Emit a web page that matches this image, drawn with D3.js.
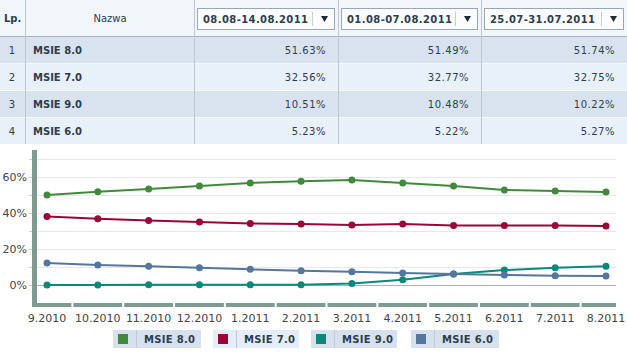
<!DOCTYPE html>
<html>
<head>
<meta charset="utf-8">
<script src="https://cdn.jsdelivr.net/npm/d3@7"></script>
<style>
  body { margin: 0; background: #fff; }
  svg { display: block; font-family: "DejaVu Sans", Verdana, sans-serif; }
</style>
</head>
<body>
<svg id="chart" width="627" height="352"></svg>
<script>
// table data
const periods = ["08.08-14.08.2011", "01.08-07.08.2011", "25.07-31.07.2011"];
const browsers = ["MSIE 8.0", "MSIE 7.0", "MSIE 9.0", "MSIE 6.0"];
const shareWeek1 = ["51.63%", "32.56%", "10.51%", "5.23%"];
const shareWeek2 = ["51.49%", "32.77%", "10.48%", "5.22%"];
const shareWeek3 = ["51.74%", "32.75%", "10.22%", "5.27%"];

// chart data
const months = ["9.2010", "10.2010", "11.2010", "12.2010", "1.2011", "2.2011",
  "3.2011", "4.2011", "5.2011", "6.2011", "7.2011", "8.2011"];
const msie8 = [50.0, 51.8, 53.3, 55.0, 56.7, 57.6, 58.3, 56.7, 55.0, 52.8, 52.2, 51.7];
const msie7 = [38.1, 36.8, 35.9, 35.0, 34.2, 33.9, 33.3, 33.9, 33.0, 33.1, 33.0, 32.8];
const msie9 = [0.0, 0.0, 0.1, 0.1, 0.1, 0.2, 0.9, 2.9, 6.1, 8.3, 9.6, 10.4];
const msie6 = [12.2, 11.1, 10.4, 9.6, 8.7, 7.9, 7.4, 6.7, 6.1, 5.6, 5.2, 5.0];
const yTicks = [0, 20, 40, 60];
const yGrid = [0, 10, 20, 30, 40, 50, 60, 70];

const series = [
  {name: "MSIE 8.0", values: msie8, color: "#428a3b"},
  {name: "MSIE 7.0", values: msie7, color: "#9a0736"},
  {name: "MSIE 9.0", values: msie9, color: "#0a887a"},
  {name: "MSIE 6.0", values: msie6, color: "#55769e"}
];
const legendOrder = ["MSIE 8.0", "MSIE 7.0", "MSIE 9.0", "MSIE 6.0"];

const svg = d3.select("#chart");
const textColor = "#2f3d4d";

// ---------- table ----------
const colEdges = [0, 25, 194, 338, 481, 627];
const headerH = 37;
const rowTops = [37, 64, 91, 118];
const rowH = 27;

svg.append("rect").attr("x", 0).attr("y", 0).attr("width", 627).attr("height", headerH)
  .attr("fill", "#f2f6fb");
svg.append("line").attr("x1", 0).attr("x2", 627).attr("y1", headerH - 0.5).attr("y2", headerH - 0.5)
  .attr("stroke", "#aab4c0");

svg.selectAll("rect.row").data(browsers).enter().append("rect")
  .attr("class", "row")
  .attr("x", 0).attr("width", 627)
  .attr("y", (d, i) => rowTops[i])
  .attr("height", (d, i) => i == 3 ? 26 : rowH - 1)
  .attr("fill", (d, i) => i % 2 == 0 ? "#d8e3ef" : "#e8f0f9");
svg.selectAll("line.rowsep").data(browsers.slice(1)).enter().append("line")
  .attr("class", "rowsep")
  .attr("x1", 0).attr("x2", 627)
  .attr("y1", (d, i) => rowTops[i + 1] - 0.5).attr("y2", (d, i) => rowTops[i + 1] - 0.5)
  .attr("stroke", "#f4f8fc");

svg.selectAll("line.colsep").data(colEdges.slice(1, 5)).enter().append("line")
  .attr("class", "colsep")
  .attr("x1", d => d + 0.5).attr("x2", d => d + 0.5)
  .attr("y1", 0).attr("y2", 144)
  .attr("stroke", "#bcc6d1");

svg.append("text").attr("x", 4).attr("y", 22).text("Lp.")
  .attr("font-size", 10).attr("font-weight", "bold").attr("fill", textColor);
svg.append("text").attr("x", 110).attr("y", 22).attr("text-anchor", "middle").text("Nazwa")
  .attr("font-size", 10).attr("fill", textColor);

// dropdown headers
periods.forEach((p, i) => {
  let x0 = colEdges[i + 2] + 3, x1 = colEdges[i + 3] - 3;
  let g = svg.append("g");
  g.append("rect").attr("x", x0 + 0.5).attr("y", 8.5).attr("width", x1 - x0 - 1).attr("height", 21)
    .attr("fill", "#fafcfe").attr("stroke", "#9aa6b3");
  g.append("line").attr("x1", x1 - 22.5).attr("x2", x1 - 22.5).attr("y1", 12).attr("y2", 26)
    .attr("stroke", "#c5cdd6");
  g.append("text").attr("x", x0 + 6).attr("y", 23).text(p)
    .attr("font-size", 10).attr("font-weight", "bold").attr("letter-spacing", 0.4)
    .attr("fill", textColor);
  g.append("path")
    .attr("d", `M${x1 - 14},16 L${x1 - 7},16 L${x1 - 10.5},22 Z`)
    .attr("fill", "#1f2a36");
});

const shares = [shareWeek1, shareWeek2, shareWeek3];
browsers.forEach((b, i) => {
  let cy = rowTops[i] + 17;
  svg.append("text").attr("x", 12).attr("y", cy).attr("text-anchor", "middle").text(i + 1)
    .attr("font-size", 10).attr("fill", textColor);
  svg.append("text").attr("x", 33).attr("y", cy).text(b)
    .attr("font-size", 10).attr("font-weight", "bold").attr("fill", textColor);
  shares.forEach((s, j) => {
    svg.append("text").attr("x", colEdges[j + 3] - 12).attr("y", cy)
      .attr("text-anchor", "end").text(s[i])
      .attr("font-size", 10).attr("letter-spacing", 0.5).attr("fill", textColor);
  });
});

// ---------- line chart ----------
const x = d3.scalePoint().domain(months).range([47, 606]);
const y = d3.scaleLinear().domain([-10, 70]).range([303, 159]);
const axisColor = "#7f9b8f";

svg.selectAll("line.grid").data(yGrid).enter().append("line")
  .attr("class", "grid")
  .attr("x1", 37).attr("x2", 616)
  .attr("y1", d => Math.round(y(d)) + 0.5).attr("y2", d => Math.round(y(d)) + 0.5)
  .attr("stroke", d => d == 0 ? "#a8b2c0" : "#e6e9ec");

svg.selectAll("line.ytick").data(yGrid).enter().append("line")
  .attr("class", "ytick")
  .attr("x1", 29).attr("x2", 33)
  .attr("y1", d => Math.round(y(d)) + 0.5).attr("y2", d => Math.round(y(d)) + 0.5)
  .attr("stroke", "#c8cdd2");

// y axis bar
svg.append("rect").attr("x", 32).attr("y", 150).attr("width", 5).attr("height", 157)
  .attr("fill", axisColor);

// x axis bar segments
const step = x.step();
svg.selectAll("rect.xseg").data(months).enter().append("rect")
  .attr("class", "xseg")
  .attr("x", (d, i) => i == 0 ? 37 : x(d) - step / 2 + 1)
  .attr("width", (d, i) => {
    let left = i == 0 ? 37 : x(d) - step / 2 + 1;
    let right = i == months.length - 1 ? 616 : x(d) + step / 2 - 1;
    return right - left;
  })
  .attr("y", 303).attr("height", 4)
  .attr("fill", axisColor);

svg.selectAll("text.ylab").data(yTicks).enter().append("text")
  .attr("class", "ylab")
  .attr("x", 27).attr("y", d => y(d) + 4)
  .attr("text-anchor", "end")
  .attr("font-size", 11).attr("fill", "#444")
  .text(d => d + "%");

svg.selectAll("text.xlab").data(months).enter().append("text")
  .attr("class", "xlab")
  .attr("x", d => x(d)).attr("y", 322)
  .attr("text-anchor", "middle")
  .attr("font-size", 11).attr("fill", "#444")
  .text(d => d);

const line = d3.line().x((d, i) => x(months[i])).y(d => y(d));

let sg = svg.selectAll("g.series").data(series).enter().append("g").attr("class", "series");
sg.append("path")
  .attr("d", d => line(d.values))
  .attr("fill", "none")
  .attr("stroke", d => d.color)
  .attr("stroke-width", 2);
sg.each(function(s) {
  d3.select(this).selectAll("circle").data(s.values).enter().append("circle")
    .attr("cx", (d, i) => x(months[i]))
    .attr("cy", d => y(d))
    .attr("r", 3.5)
    .attr("fill", s.color);
});

// ---------- legend ----------
const legendX = [113, 213, 311, 411];
const legendW = [88, 86, 86, 88];
legendOrder.forEach((name, i) => {
  let s = series.find(d => d.name == name);
  let g = svg.append("g").attr("transform", `translate(${legendX[i]},330)`);
  g.append("rect").attr("width", legendW[i]).attr("height", 18)
    .attr("fill", i == 1 ? "#e5eef8" : "#d6e1ed");
  g.append("line").attr("x1", 23.5).attr("x2", 23.5).attr("y1", 0).attr("y2", 18)
    .attr("stroke", "#bfcad6");
  g.append("rect").attr("x", 5).attr("y", 4).attr("width", 10).attr("height", 10)
    .attr("fill", s.color);
  g.append("text").attr("x", 31).attr("y", 13).text(name)
    .attr("font-size", 10).attr("font-weight", "bold").attr("letter-spacing", 0.3)
    .attr("fill", textColor);
});
</script>
</body>
</html>
